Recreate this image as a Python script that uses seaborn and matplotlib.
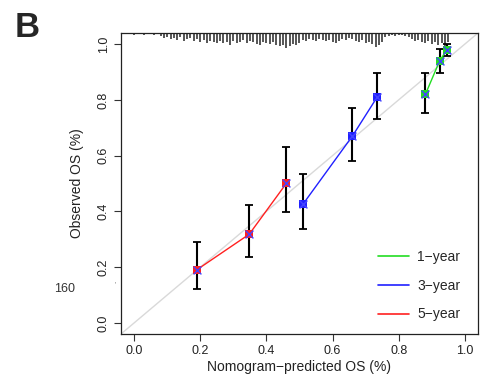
import seaborn as sns
import matplotlib.pyplot as plt
from matplotlib.lines import Line2D
import pandas as pd
import numpy as np

sns.set_style("ticks")
plt.rcParams["font.family"] = ["Liberation Sans", "DejaVu Sans"]

# calibration points per horizon
groups = ["1\u2212year", "3\u2212year", "5\u2212year"]
colors = ["#22dd22", "#2020ff", "#ff2020"]

pred_1y = [0.881, 0.924, 0.946]
obs_1y = [0.820, 0.940, 0.980]
lo_1y = [0.754, 0.898, 0.958]
hi_1y = [0.896, 0.983, 1.000]

pred_3y = [0.510, 0.660, 0.735]
obs_3y = [0.425, 0.670, 0.810]
lo_3y = [0.337, 0.580, 0.732]
hi_3y = [0.533, 0.770, 0.896]

pred_5y = [0.189, 0.348, 0.460]
obs_5y = [0.190, 0.318, 0.500]
lo_5y = [0.121, 0.235, 0.397]
hi_5y = [0.291, 0.423, 0.630]

# rug of predicted values along the top (tick lengths in px)
rug_x = np.round(np.arange(0, 96) * 0.01, 2)
rug_h = [2, 0, 0, 2, 0, 0, 2, 0, 3, 5,
         4, 6, 5, 7, 4, 8, 6, 5, 8, 6,
         9, 7, 10, 8, 9, 10, 8, 10, 9, 12,
         8, 10, 9, 7, 10, 8, 9, 11, 12, 9,
         10, 11, 9, 12, 13, 12, 15, 13, 11, 12,
         10, 7, 8, 6, 7, 8, 6, 7, 8, 7,
         9, 10, 8, 6, 7, 5, 6, 8, 9, 7,
         10, 9, 11, 14, 12, 9, 4, 3, 2, 3,
         2, 2, 3, 4, 6, 8, 7, 9, 10, 8,
         11, 9, 12, 10, 13, 9]

df = pd.DataFrame({
    "pred": pred_1y + pred_3y + pred_5y,
    "obs": obs_1y + obs_3y + obs_5y,
    "lo": lo_1y + lo_3y + lo_5y,
    "hi": hi_1y + hi_3y + hi_5y,
    "group": [groups[0]] * 3 + [groups[1]] * 3 + [groups[2]] * 3,
})

fig = plt.figure(figsize=(4.91, 3.89), dpi=100)
ax = fig.add_axes([0.2464, 0.1414, 0.7271, 0.7738])

ax.axline((0, 0), (1, 1), color="#d9d9d9", lw=1, zorder=1)

# rug
top = 1.04
px = 1 / 278.5
h = np.array(rug_h) * px
ax.vlines(rug_x[h > 0], top - h[h > 0], top, color="#555555", lw=1.4, zorder=2)

# error bars
ax.errorbar(df["pred"], df["obs"], yerr=[df["obs"] - df["lo"], df["hi"] - df["obs"]],
            fmt="none", ecolor="black", elinewidth=1.5, capsize=3, capthick=1.3, zorder=3)

sns.lineplot(data=df, x="pred", y="obs", hue="group", hue_order=groups,
             palette=colors, marker="s", markersize=5.5, markeredgewidth=0,
             lw=1, sort=True, legend=False, ax=ax, zorder=4)
sns.scatterplot(data=df, x="pred", y="obs", marker="x", color="#4444ff",
                s=32, linewidth=1, legend=False, ax=ax, zorder=5)

ax.set_xlim(-0.04, 1.04)
ax.set_ylim(-0.04, 1.04)
ticks = [0.0, 0.2, 0.4, 0.6, 0.8, 1.0]
ax.set_xticks(ticks)
ax.set_yticks(ticks)
ax.set_xticklabels([f"{t:.1f}" for t in ticks], fontsize=9, color="#222222")
ax.set_yticklabels([f"{t:.1f}" for t in ticks], fontsize=9, color="#222222",
                   rotation=90, va="center")
ax.tick_params(direction="out", length=5, width=0.8, color="#333333", pad=3)
ax.set_xlabel("Nomogram\u2212predicted OS (%)", fontsize=10, color="#222222", labelpad=2)
ax.set_ylabel("Observed OS (%)", fontsize=10, color="#222222", labelpad=10)
for s in ax.spines.values():
    s.set_linewidth(0.9)
    s.set_color("#222222")

handles = [Line2D([0], [0], color=c, lw=1.2) for c in colors]
ax.legend(handles, groups, loc="lower right", bbox_to_anchor=(0.985, 0.0),
          frameon=False, fontsize=10, handlelength=2.2, handletextpad=0.6,
          labelspacing=1.05)

fig.text(0.03, 0.972, "B", fontsize=25, fontweight="bold", va="top", ha="left")
fig.text(0.132, 0.257, "160", fontsize=9, color="#333333", ha="center", va="center")
fig.text(0.234, 0.268, "'", fontsize=5, color="#666666", ha="center", va="center")

fig.savefig("out.png", dpi=100)
